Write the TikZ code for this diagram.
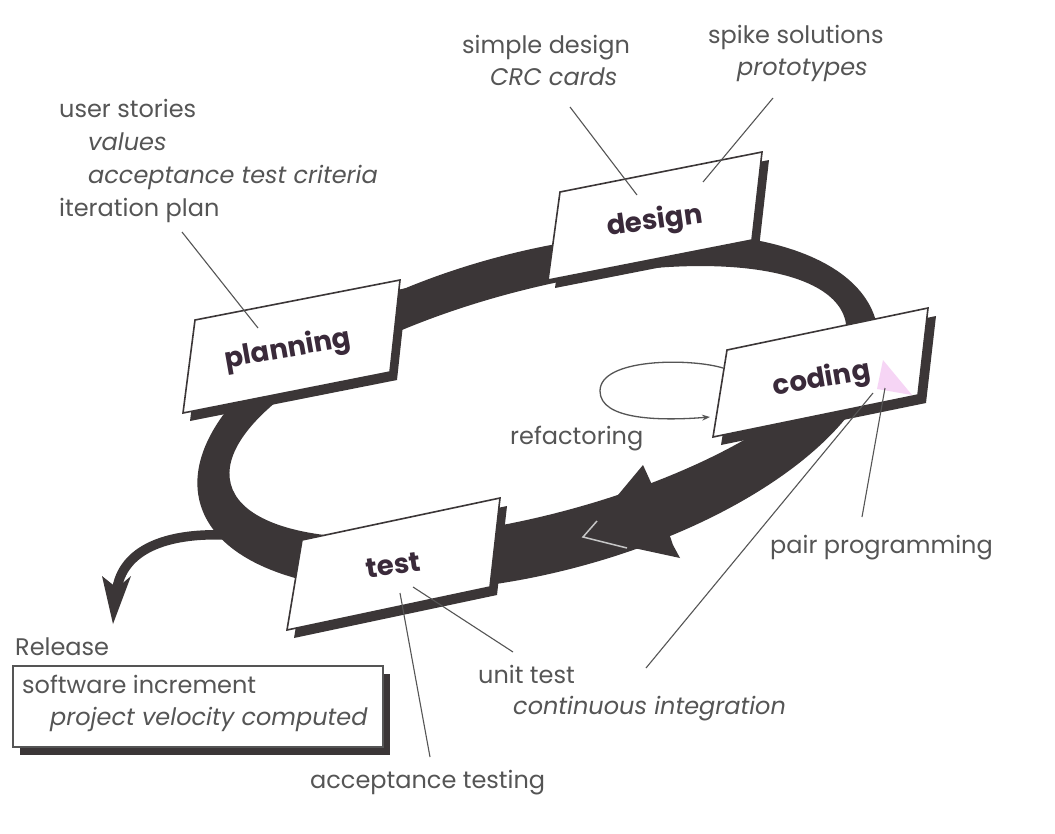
\documentclass[tikz,border=0pt]{standalone}
\usepackage{fontspec}
\setmainfont{Poppins}
\usetikzlibrary{arrows.meta}
\definecolor{band}{HTML}{3B3637}
\definecolor{txt}{HTML}{555555}
\definecolor{cardtxt}{HTML}{3A2A3A}
\definecolor{pinkish}{HTML}{F3C8F2}
\begin{document}
\begin{tikzpicture}[x=1pt,y=-1pt,
  lbl/.style={anchor=base west, inner sep=0pt, text=txt, font=\fontsize{24}{28}\selectfont},
  ilbl/.style={lbl, font=\fontsize{24}{28}\selectfont\itshape},
  cardlbl/.style={inner sep=0pt, text=cardtxt, font=\fontsize{27.5}{32}\selectfont\bfseries},
  leader/.style={draw=txt, line width=1.1pt},
  cardshadow/.style={fill=band},
  cardface/.style={fill=white, draw=band, line width=1.6pt, line join=miter}]
\useasboundingbox (0,0) rectangle (1055,833);
\fill[white] (0,0) rectangle (1055,833);

% main loop band
\begin{scope}[shift={(538,412)}, rotate=15]
\fill[band, even odd rule] (0,0) ellipse (350pt and 160pt) (2.6pt,9.66pt) ellipse (318pt and 112pt);
\end{scope}

% arrow head on the loop
\fill[band] (653,487) -- (643,465) -- (583,537) -- (680,558) -- (673,545) -- cycle;
\draw[gray!45, line width=1.5pt, line join=miter] (597,521) -- (583,537) -- (627,548);

% release branch
\coordinate (relstart) at (225,535);
\coordinate (relend) at (117,588);
\draw[band, line width=9.5pt] (relstart) .. controls (175,533) and (125,545) .. (relend);
\fill[band] (102,576) -- (117,588) -- (131,576) -- (113,624) -- cycle;

% cards
\fill[cardshadow, shift={(7,8)}] (195,320) -- (400,280) -- (390,372) -- (183,413) -- cycle;
\filldraw[cardface] (195,320) -- (400,280) -- (390,372) -- (183,413) -- cycle;
\node[cardlbl, rotate=10] (plan) at (288,350) {planning};

\fill[cardshadow, shift={(7,8)}] (560,192) -- (762,152) -- (752,240) -- (548,280) -- cycle;
\filldraw[cardface] (560,192) -- (762,152) -- (752,240) -- (548,280) -- cycle;
\node[cardlbl, rotate=8] (des) at (655,222) {design};

\fill[cardshadow, shift={(8,8)}] (727,350) -- (928,308) -- (918,395) -- (713,437) -- cycle;
\filldraw[cardface] (727,350) -- (928,308) -- (918,395) -- (713,437) -- cycle;
\fill[pinkish, opacity=0.75] (877,389) -- (883,360) -- (912,395) -- cycle;
\node[cardlbl, rotate=10] (cod) at (822,380) {coding};

\fill[cardshadow, shift={(7,8)}] (302,540) -- (500,498) -- (490,587) -- (287,630) -- cycle;
\filldraw[cardface] (302,540) -- (500,498) -- (490,587) -- (287,630) -- cycle;
\node[cardlbl, rotate=8] (tst) at (393,565) {test};

% refactoring loop
\coordinate (rfa) at (723,368);
\coordinate (rfb) at (710,417);
\draw[txt, line width=1.3pt, -{Stealth[length=8pt,width=6pt]}] (rfa) .. controls (690,358) and (600,358) .. (600,391) .. controls (600,420) and (660,421) .. (rfb);
\node[lbl] (refac) at (510,444) {refactoring};

% text labels
\node[lbl] (us) at (59,117) {user stories};
\node[ilbl] (val) at (88,150) {values};
\node[ilbl] (atc) at (88,183) {acceptance test criteria};
\node[lbl] (ip) at (59,216) {iteration plan};

\node[lbl] (sd) at (462,53) {simple design};
\node[ilbl] (crc) at (490,85) {CRC cards};
\node[lbl] (ss) at (708,43) {spike solutions};
\node[ilbl] (pt) at (737,75) {prototypes};

\node[lbl] (pp) at (770,553) {pair programming};
\node[lbl] (ut) at (478,683) {unit test};
\node[ilbl] (ci) at (513,714) {continuous integration};
\node[lbl] (at) at (310,788) {acceptance testing};

\node[lbl] (rel) at (15,655) {Release};
\fill[band] (20,674) rectangle (390,755);
\node[draw=txt, line width=1.4pt, fill=white, minimum width=370pt, minimum height=81pt, inner sep=0pt] (relbox) at (198,706.5) {};
\node[lbl] (si) at (22,693) {software increment};
\node[ilbl] (pv) at (50,725) {project velocity computed};

% leader lines
\coordinate (ipA) at (182,232); \coordinate (ipB) at (258,328);
\draw[leader] (ipA) -- (ipB);
\coordinate (sdA) at (570,107); \coordinate (sdB) at (637,195);
\draw[leader] (sdA) -- (sdB);
\coordinate (ssA) at (773,98); \coordinate (ssB) at (703,182);
\draw[leader] (ssA) -- (ssB);
\coordinate (ppA) at (885,388); \coordinate (ppB) at (862,517);
\draw[leader] (ppA) -- (ppB);
\coordinate (ciA) at (873,393); \coordinate (ciB) at (646,668);
\draw[leader] (ciA) -- (ciB);
\coordinate (utA) at (413,587); \coordinate (utB) at (513,652);
\draw[leader] (utA) -- (utB);
\coordinate (atA) at (400,593); \coordinate (atB) at (430,757);
\draw[leader] (atA) -- (atB);
\end{tikzpicture}
\end{document}
